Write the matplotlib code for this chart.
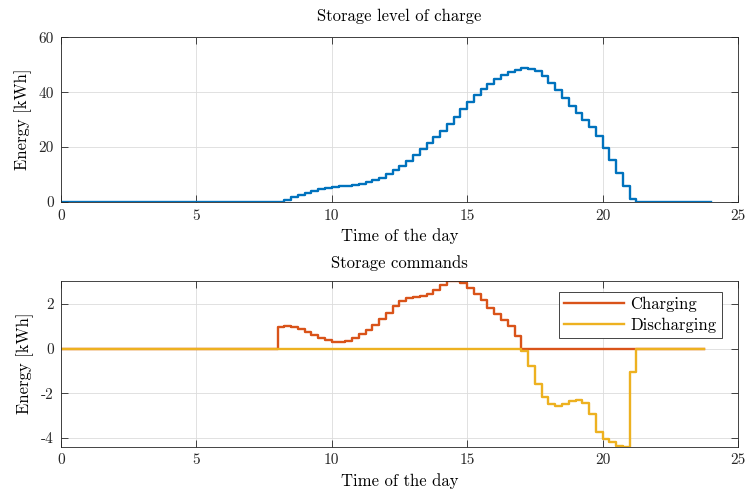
import numpy as np
import matplotlib

matplotlib.use("Agg")
import matplotlib.pyplot as plt  # noqa: E402

# MATLAB default colour order
BLUE = "#0072BD"
RED = "#D95319"
YELLOW = "#EDB120"
AX_COLOR = "#262626"

# storage level of charge [kWh], 15-min steps, non-zero part from 8:15 to 21:00
soc_start = 8.25
soc_values = [
    0.86, 1.76, 2.62, 3.41, 4.09, 4.64, 5.08, 5.41, 5.65, 5.89, 6.20, 6.63,
    7.20, 7.94, 8.88, 10.06, 11.50, 13.19, 15.11, 17.14, 19.21, 21.31, 23.51,
    25.87, 28.42, 31.12, 33.85, 36.50, 38.94, 41.14, 43.08, 44.72, 46.12, 47.27,
    48.17, 48.67, 48.56, 47.67, 45.89, 43.49, 40.72, 37.88, 35.11, 32.49, 29.96,
    27.25, 23.98, 19.84, 15.36, 10.69, 5.86, 0.99,
]

# storage commands [kWh] per 15-min step
charging_start = 8.0
charging_values = [
    0.95, 1.00, 0.95, 0.88, 0.76, 0.61, 0.49, 0.37, 0.27, 0.27, 0.34, 0.48,
    0.63, 0.82, 1.04, 1.31, 1.60, 1.88, 2.13, 2.25, 2.30, 2.34, 2.45, 2.62,
    2.83, 3.00, 3.03, 2.94, 2.71, 2.45, 2.15, 1.82, 1.55, 1.28, 1.00, 0.55,
]
discharging_start = 17.0
discharging_values = [
    0.10, 0.80, 1.60, 2.16, 2.49, 2.56, 2.49, 2.36, 2.28, 2.44, 2.94, 3.73,
    4.03, 4.20, 4.35, 4.38, 1.04,
]

step = 0.25
t_soc = np.arange(0, 24 + step / 2, step)
t_cmd = np.arange(0, 24, step)


def pad(t, start, values):
    out = np.zeros(len(t))
    i0 = int(round(start / step))
    out[i0:i0 + len(values)] = values
    return out


soc = pad(t_soc, soc_start, soc_values)
charging = pad(t_cmd, charging_start, charging_values)
discharging = -pad(t_cmd, discharging_start, discharging_values)

plt.rcParams.update({
    "font.family": "serif",
    "font.serif": ["cmr10", "DejaVu Serif"],
    "mathtext.fontset": "cm",
    "axes.formatter.use_mathtext": False,
    "font.size": 10,
    "axes.unicode_minus": False,
})


def style_axes(ax):
    ax.set_xlim(0, 25)
    ax.set_xticks([0, 5, 10, 15, 20, 25])
    ax.grid(True, color="#dcdcdc", linewidth=0.6)
    ax.set_axisbelow(True)
    ax.tick_params(direction="in", length=5, width=0.6, colors=AX_COLOR,
                   top=True, right=True, labelsize=11, pad=5)
    for spine in ax.spines.values():
        spine.set_color(AX_COLOR)
        spine.set_linewidth(0.6)


fig = plt.figure(figsize=(7.49, 4.93), dpi=100)
ax1 = fig.add_axes([0.0814, 0.5903, 0.9039, 0.334])
ax2 = fig.add_axes([0.0814, 0.0943, 0.9039, 0.3363])

ax1.step(t_soc, soc, where="post", color=BLUE, linewidth=1.7)
style_axes(ax1)
ax1.set_ylim(0, 60)
ax1.set_yticks([0, 20, 40, 60])
ax1.set_title("Storage level of charge", fontsize=12, pad=12)
ax1.set_xlabel("Time of the day", fontsize=12, labelpad=4)
ax1.set_ylabel("Energy [kWh]", fontsize=12, labelpad=5)

ax2.step(t_cmd, charging, where="post", color=RED, linewidth=1.7, label="Charging")
ax2.step(t_cmd, discharging, where="post", color=YELLOW, linewidth=1.7, label="Discharging")
style_axes(ax2)
ax2.set_ylim(discharging.min(), charging.max())
ax2.set_yticks([-4, -2, 0, 2])
ax2.set_title("Storage commands", fontsize=12, pad=9)
ax2.set_xlabel("Time of the day", fontsize=12, labelpad=4)
ax2.set_ylabel("Energy [kWh]", fontsize=12, labelpad=5)
leg = ax2.legend(loc="upper right", fontsize=12, handlelength=3.6, fancybox=False,
                 framealpha=1, edgecolor=AX_COLOR, borderpad=0.3, labelspacing=0.3,
                 handletextpad=0.4, borderaxespad=0, bbox_to_anchor=(0.976, 0.932))
leg.get_frame().set_linewidth(0.6)

fig.savefig("out.png", dpi=100)
